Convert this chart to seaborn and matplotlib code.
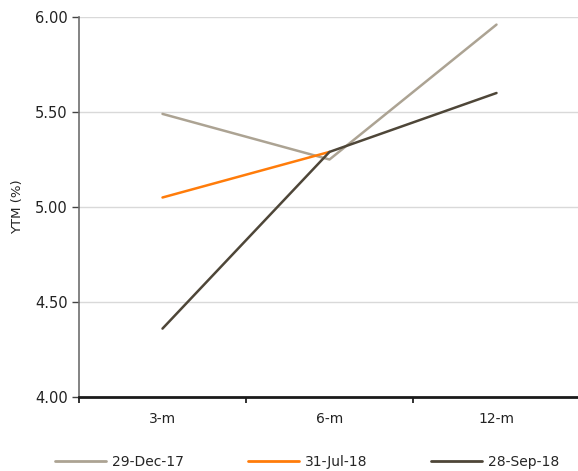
import matplotlib
matplotlib.use("Agg")
import matplotlib.pyplot as plt
import seaborn as sns
import pandas as pd
import numpy as np

tenors = ["3-m", "6-m", "12-m"]
dec17 = [5.49, 5.25, 5.96]
jul18 = [5.05, 5.29, np.nan]
sep18 = [4.36, 5.29, 5.60]
series_names = ["29-Dec-17", "31-Jul-18", "28-Sep-18"]
colors = ["#aca393", "#ff7c0a", "#4e4638"]
y_ticks = [4.00, 4.50, 5.00, 5.50, 6.00]

rows = []
for name, vals in zip(series_names, [dec17, jul18, sep18]):
    for i, (t, v) in enumerate(zip(tenors, vals)):
        rows.append({"pos": i, "tenor": t, "ytm": v, "date": name})
df = pd.DataFrame(rows).dropna()

sns.set_style("white")
plt.rcParams["font.family"] = ["DejaVu Sans"]

fig = plt.figure(figsize=(5.78, 4.71), dpi=100)
W, H = 578, 471
ax = fig.add_axes([79 / W, 1 - 397 / H, 501 / W, 380 / H])

sns.lineplot(data=df, x="pos", y="ytm", hue="date", hue_order=series_names,
             palette=colors, linewidth=1.8, ax=ax, legend=True, sort=False)

ax.set_xlim(-0.5, 2.5)
ax.set_ylim(4.0, 6.0)
ax.set_yticks(y_ticks)
ax.set_yticklabels([f"{v:.2f}" for v in y_ticks], fontsize=10.5, color="#222222")
ax.set_xticks(range(len(tenors)))
ax.set_xticklabels(tenors, fontsize=10, color="#222222")
ax.set_xticks([-0.5, 0.5, 1.5, 2.5], minor=True)
ax.tick_params(axis="x", which="major", bottom=False, length=0, pad=11)
ax.tick_params(axis="x", which="minor", bottom=True, length=4, width=1.3,
               color="#222222", direction="out")
ax.tick_params(axis="y", left=True, length=5, width=1, color="#444444",
               direction="out", pad=3)
ax.set_xlabel("")
ax.set_ylabel("YTM (%)", fontsize=9.5, color="#222222", labelpad=8)

ax.grid(axis="y", color="#d9d9d9", linewidth=1)
ax.set_axisbelow(True)
for s in ["top", "right"]:
    ax.spines[s].set_visible(False)
ax.spines["left"].set_color("#6e6e6e")
ax.spines["left"].set_linewidth(1.2)
ax.spines["bottom"].set_color("#1a1a1a")
ax.spines["bottom"].set_linewidth(2)

handles, labels = ax.get_legend_handles_labels()
ax.legend(handles, labels, loc="upper left", bbox_to_anchor=(55 / W, 1 - 455 / H),
          bbox_transform=fig.transFigure, ncol=3, frameon=False, fontsize=10,
          handlelength=3.7, handletextpad=0.4, columnspacing=4.6,
          borderaxespad=0, borderpad=0)
for line in ax.get_legend().get_lines():
    line.set_linewidth(2)

fig.savefig("out.png", dpi=100)
